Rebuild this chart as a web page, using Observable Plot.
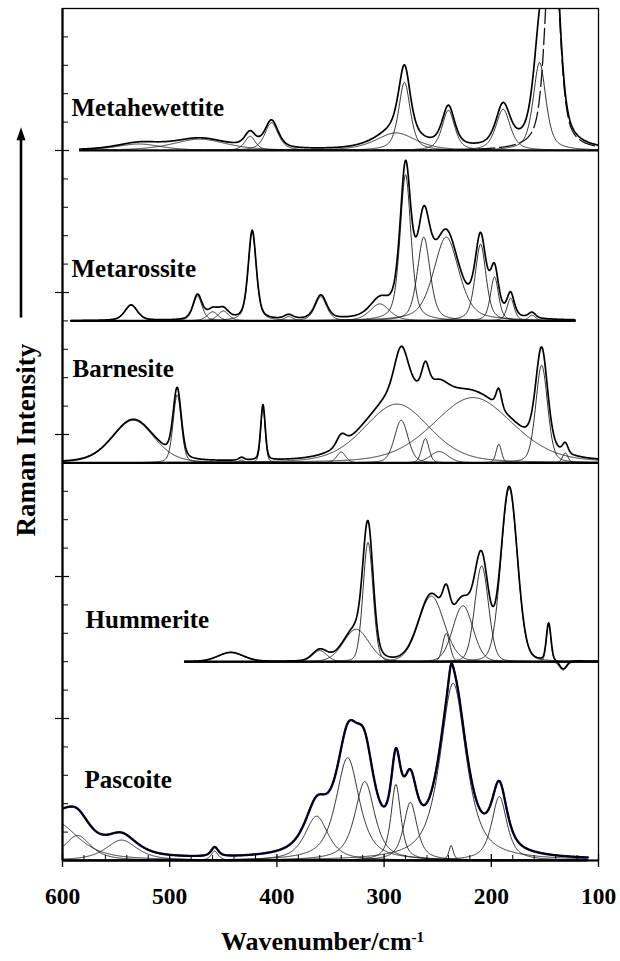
<!DOCTYPE html>
<html><head><meta charset="utf-8">
<script src="https://cdn.jsdelivr.net/npm/d3@7"></script>
<script src="https://cdn.jsdelivr.net/npm/@observablehq/plot@0.6"></script>
<style>html,body{margin:0;padding:0;background:#fff}</style>
</head><body><div id="chart"></div>
<script>
// ---------- data ----------
const names = ["Metahewettite", "Metarossite", "Barnesite", "Hummerite", "Pascoite"];
// vertical offset of each spectrum's baseline (in intensity units, 1 unit = one minor tick)
const baselineOffsets = [25, 19, 14, 7, 0];
// wavenumber span of each spectrum (cm-1)
const spectrumStart = [584, 592, 600, 486, 600];
const spectrumEnd = [100, 122, 100, 100, 110];
// Lorentzian fraction of the fitted band shapes
const lorentzFraction = [0.6, 0.5, 0.3, 0.15, 0.75];

// fitted bands: [centre cm-1, height, FWHM cm-1]
const metahewettitePeaks = [
  [529, 0.23, 50], [472, 0.40, 60], [425, 0.50, 12], [405, 0.98, 15],
  [289, 0.62, 45], [281, 2.40, 13], [240, 1.42, 14], [189, 1.45, 16], [155, 3.10, 14]
];
const metahewettiteDashed = [[143, 9.0, 14]];
const metarossitePeaks = [
  [536, 0.55, 14], [474, 0.88, 10], [460, 0.32, 12], [450, 0.35, 12], [423, 3.15, 9],
  [389, 0.15, 10], [359, 0.85, 13], [304, 0.60, 22], [280, 5.15, 12], [263, 2.95, 14],
  [242, 2.95, 28], [210, 2.70, 12], [197, 1.55, 9], [182, 0.80, 8], [162, 0.20, 8]
];
const barnesitePeaks = [
  [534, 1.50, 46], [493, 2.40, 9], [433, 0.10, 6], [413, 1.95, 5], [340, 0.38, 10],
  [288, 2.07, 72], [284, 1.50, 15], [261.5, 0.86, 8], [248.6, 0.40, 20], [217, 2.30, 88],
  [193, 0.66, 6], [153, 3.44, 13], [131, 0.35, 6]
];
const hummeritePeaks = [
  [443, 0.32, 28], [360, 0.39, 16], [326, 1.14, 28], [315, 4.20, 11], [256, 2.31, 28],
  [242, 1.00, 8], [226.5, 1.97, 22], [209, 3.37, 15], [183.3, 6.10, 18], [146.5, 1.30, 5],
  [133, -0.30, 8]
];
const pascoitePeaks = [
  [606, 1.35, 50], [586, 0.88, 30], [545, 0.72, 35], [458, 0.33, 8], [363, 1.56, 26],
  [334, 3.62, 26], [318, 2.78, 22], [289, 2.68, 11], [275.5, 2.05, 15], [237.5, 0.53, 5],
  [235.6, 6.24, 29], [192.5, 2.25, 17]
];
const peakSets = [metahewettitePeaks, metarossitePeaks, barnesitePeaks, hummeritePeaks, pascoitePeaks];
const dashedSets = [metahewettiteDashed, [], [], [], []];

// axis ticks
const xMajorTicks = [600, 500, 400, 300, 200, 100];
const xMinorTicks = [580, 560, 540, 520, 480, 460, 440, 420, 380, 360, 340, 320, 280, 260, 240, 220, 180, 160, 140, 120];
const yMajorTicks = [5, 10, 15, 20, 25];
const yMinorTicks = [1,2,3,4,6,7,8,9,11,12,13,14,16,17,18,19,21,22,23,24,26,27,28,29];
const xTitle = "Wavenumber/cm";
const xTitleSup = "-1";
const yTitle = "Raman Intensity";

// ---------- layout (not data) ----------
const labelAt = [[591.6, 26.2], [591.6, 20.54], [590.7, 17.04], [578.5, 8.17], [579.5, 2.54]];
const yTitleAt = [634, 14.8];
const arrowSpan = [19.1, 25.8];

// ---------- build curves ----------
function band(w, p, mix) {
  const u = (w - p[0]) / (p[2] / 2);
  return p[1] * (mix / (1 + u * u) + (1 - mix) * Math.exp(-Math.LN2 * u * u));
}
const componentRows = [], dashedRows = [], sumRows = [], baselineRows = [];
names.forEach((name, s) => {
  const peaks = peakSets[s], dashed = dashedSets[s], mix = lorentzFraction[s], off = baselineOffsets[s];
  baselineRows.push({name, y: off, x1: spectrumStart[s], x2: spectrumEnd[s]});
  for (let w = spectrumStart[s]; w >= spectrumEnd[s]; w -= 0.5) {
    let total = 0;
    peaks.forEach((p, k) => { const v = band(w, p, mix); total += v; componentRows.push({key: name + k, w, y: off + v}); });
    dashed.forEach((p, k) => { const v = band(w, p, mix); total += v; dashedRows.push({key: name + "d" + k, w, y: off + v}); });
    sumRows.push({name, w, y: off + total});
  }
});

function arrowMark(index, scales, values, dimensions) {
  const x = dimensions.marginLeft - 41;
  const yb = scales.y(arrowSpan[0]), yt = scales.y(arrowSpan[1]);
  const g = d3.create("svg:g");
  g.append("line").attr("x1", x).attr("x2", x).attr("y1", yb).attr("y2", yt + 10)
    .attr("stroke", "black").attr("stroke-width", 2.6);
  g.append("path").attr("d", `M${x},${yt}L${x - 4.5},${yt + 13}L${x + 4.5},${yt + 13}Z`).attr("fill", "black");
  return g.node();
}

const serif = "'Liberation Serif', 'Times New Roman', Times, serif";
const chart = Plot.plot({
  width: 620, height: 961,
  marginTop: 8, marginRight: 22, marginBottom: 101, marginLeft: 62,
  x: {domain: [600, 100], axis: null},
  y: {domain: [0, 30], axis: null},
  style: {background: "white", fontFamily: serif, overflow: "visible"},
  marks: [
    Plot.line(componentRows, {x: "w", y: "y", z: "key", stroke: "#1c1c1c", strokeWidth: 0.9, clip: true}),
    Plot.line(dashedRows, {x: "w", y: "y", z: "key", stroke: "#111", strokeWidth: 1.3, strokeDasharray: "16,5", clip: true}),
    Plot.ruleY(baselineRows, {y: "y", x1: "x1", x2: "x2", stroke: "black", strokeWidth: 2.2}),
    Plot.line(sumRows.filter(d => d.name === "Pascoite"), {x: "w", y: "y", stroke: "#1a1a80", strokeWidth: 2.4, clip: true}),
    Plot.line(sumRows, {x: "w", y: "y", z: "name", stroke: "black", strokeWidth: 1.7, clip: true}),
    Plot.text(names, {x: (d, i) => labelAt[i][0], y: (d, i) => labelAt[i][1], text: d => d,
      textAnchor: "start", lineAnchor: "bottom", fontSize: 25, fontWeight: "bold"}),
    Plot.tickY(yMinorTicks, {y: d => d, insetRight: 530, stroke: "black", strokeWidth: 1}),
    Plot.tickY(yMajorTicks, {y: d => d, insetLeft: -7, insetRight: 529, stroke: "black", strokeWidth: 1.2}),
    Plot.tickX(xMinorTicks, {x: d => d, insetTop: 847, stroke: "black", strokeWidth: 1}),
    Plot.tickX(xMajorTicks, {x: d => d, insetTop: 846, insetBottom: -7, stroke: "black", strokeWidth: 1.3}),
    Plot.frame({stroke: "black", strokeWidth: 1.3}),
    Plot.ruleX([600], {stroke: "black", strokeWidth: 2.2}),
    Plot.ruleY([0], {stroke: "black", strokeWidth: 2.2}),
    Plot.text(xMajorTicks, {x: d => d, frameAnchor: "bottom", dy: 43, lineAnchor: "bottom",
      text: d => String(d), fontSize: 23.5, fontWeight: "bold"}),
    Plot.text([xTitle], {frameAnchor: "bottom", dy: 89, dx: -8, lineAnchor: "bottom",
      text: d => d, fontSize: 26, fontWeight: "bold"}),
    Plot.text([yTitle], {x: () => yTitleAt[0], y: () => yTitleAt[1], rotate: -90,
      text: d => d, fontSize: 27, fontWeight: "bold"}),
    arrowMark
  ]
});
// superscript on the axis title
d3.select(chart).selectAll("text").filter(function () { return this.textContent === xTitle; })
  .append("tspan").attr("dy", "-0.5em").attr("font-size", 15).text(xTitleSup);
document.getElementById("chart").appendChild(chart);
</script>
</body></html>
